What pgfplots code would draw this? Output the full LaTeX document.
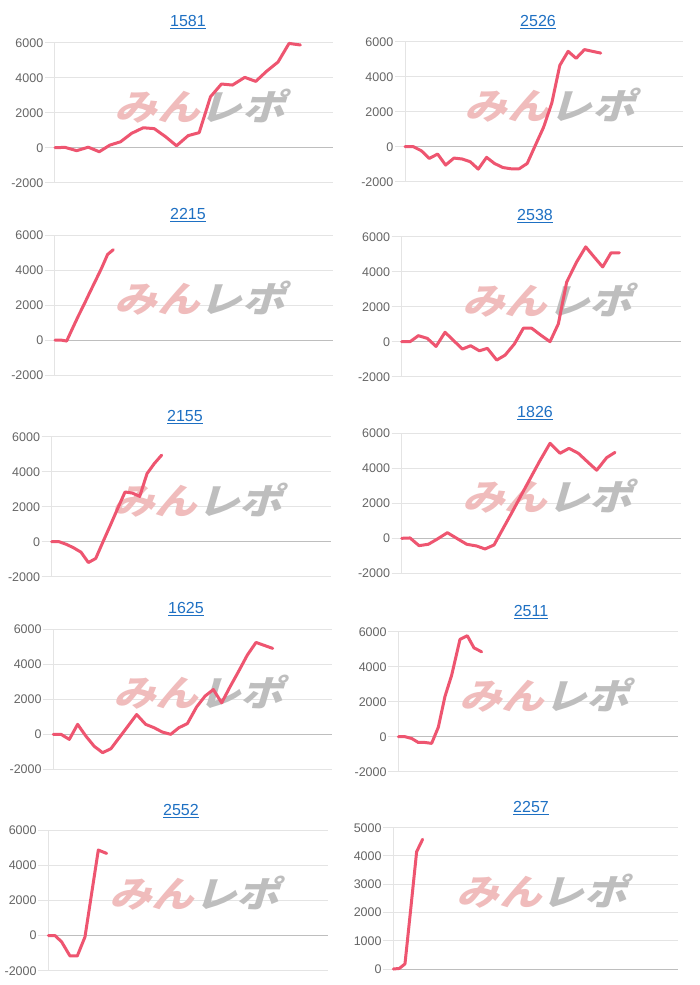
\documentclass[border=0pt]{standalone}
\usepackage{fontspec}
\setmainfont{Liberation Sans}
\newfontfamily\jp{Noto Sans CJK JP}[FakeSlant=0.25]
\usepackage{pgfplots}
\pgfplotsset{compat=1.18}

\definecolor{linec}{RGB}{238,85,112}
\definecolor{gridc}{RGB}{228,228,228}
\definecolor{zeroc}{RGB}{190,190,190}
\definecolor{tickc}{RGB}{102,102,102}
\definecolor{titlec}{RGB}{30,112,195}
\definecolor{wmpink}{RGB}{240,188,188}
\definecolor{wmgray}{RGB}{190,190,190}

% one small chart; 1pt stands for one pixel of the reference
\pgfplotsset{
  panel/.style={
    scale only axis, anchor=south west,
    xmin=0, ymin=-2000, ymax=6000,
    ytick={-2000,0,2000,4000,6000},
    xtick=\empty,
    axis line style={draw=none},
    ymajorgrids, major grid style={gridc, line width=1pt},
    ytick pos=left, tick align=outside, major tick length=10pt,
    tick style={gridc, line width=1pt},
    yticklabel style={font=\fontsize{12.5}{14}\selectfont, text=tickc, inner sep=1.5pt},
    /pgf/number format/assume math mode=true,
    /pgf/number format/1000 sep={},
    clip=false,
  },
  pnl/.style={linec, line width=3pt, line join=round, line cap=round},
}
\newcommand{\wmark}{%
  \node[font=\jp\bfseries\fontsize{36}{36}\selectfont, xscale=1.18, inner sep=0pt]
    at (rel axis cs:0.5,0.5) [xshift=5pt, yshift=7pt]
    {\textcolor{wmpink}{みん}\textcolor{wmgray}{レポ}};}
\newcommand{\pframe}[1]{%
  \draw[gridc, line width=1pt] (rel axis cs:0,0) -- (rel axis cs:0,1);
  \draw[zeroc, line width=1pt] (rel axis cs:0,#1) -- (rel axis cs:1,#1);}
\tikzset{ttl/.style={font=\fontsize{16}{18}\selectfont, text=titlec, inner sep=0pt}}

\begin{document}
\begin{tikzpicture}
\fill[white] (0,0) rectangle (700pt,-985pt);

% row 1
\node[ttl] at (188pt,-21.7pt) {\underline{1581}};
\begin{axis}[panel, at={(55pt,-182.7pt)}, width=278pt, height=140pt, xmax=835]
\wmark \pframe{0.25}
\addplot[pnl] coordinates {(0,0)(30,20)(65,-170)(100,30)(133,-230)(165,150)(197,340)(230,820)(265,1140)(298,1090)(332,630)(365,110)(400,690)(433,860)(467,2910)(500,3640)(533,3580)(570,4020)(603,3790)(635,4360)(670,4900)(703,5960)(737,5870)};
\end{axis}

\node[ttl] at (538pt,-21.7pt) {\underline{2526}};
\begin{axis}[panel, at={(405pt,-181.7pt)}, width=278pt, height=140pt, xmax=835]
\wmark \pframe{0.25}
\addplot[pnl] coordinates {(0,0)(25,0)(49,-230)(73,-670)(98,-420)(122,-1050)(147,-650)(171,-700)(196,-860)(220,-1280)(245,-610)(269,-960)(294,-1190)(318,-1260)(343,-1260)(367,-960)(392,100)(416,1100)(441,2500)(465,4650)(490,5450)(514,5050)(539,5550)(563,5450)(588,5350)};
\end{axis}

% row 2
\node[ttl] at (188pt,-215pt) {\underline{2215}};
\begin{axis}[panel, at={(55pt,-375pt)}, width=278pt, height=140pt, xmax=835]
\wmark \pframe{0.25}
\addplot[pnl] coordinates {(0,0)(17,0)(35,-60)(53,680)(70,1370)(88,2060)(105,2740)(123,3440)(140,4110)(158,4890)(175,5160)};
\end{axis}

\node[ttl] at (535pt,-215.7pt) {\underline{2538}};
\begin{axis}[panel, at={(401.7pt,-376.7pt)}, width=279.3pt, height=140pt, xmax=838]
\wmark \pframe{0.25}
\addplot[pnl] coordinates {(0,0)(25,0)(50,345)(77,190)(103,-270)(130,540)(182,-420)(207,-230)(233,-520)(257,-380)(285,-1050)(310,-770)(338,-130)(365,770)(390,770)(417,380)(445,0)(470,1020)(495,3410)(525,4560)(552,5420)(577,4850)(603,4270)(628,5080)(653,5080)};
\end{axis}

% row 3
\node[ttl] at (185pt,-416.7pt) {\underline{2155}};
\begin{axis}[panel, at={(51.7pt,-576.7pt)}, width=279.3pt, height=140pt, xmax=838]
\wmark \pframe{0.25}
\addplot[pnl] coordinates {(0,0)(22,0)(44,-150)(66,-350)(88,-600)(110,-1190)(132,-960)(154,0)(176,940)(198,1900)(220,2840)(242,2780)(264,2590)(286,3890)(308,4470)(330,4950)};
\end{axis}

\node[ttl] at (535pt,-413.3pt) {\underline{1826}};
\begin{axis}[panel, at={(401.7pt,-573.3pt)}, width=279.3pt, height=140pt, xmax=838]
\wmark \pframe{0.25}
\addplot[pnl] coordinates {(0,0)(25,20)(52,-420)(80,-340)(107,-40)(137,320)(195,-340)(225,-440)(250,-610)(277,-380)(305,590)(332,1520)(359,2480)(386,3430)(413,4380)(445,5430)(475,4860)(502,5140)(530,4860)(557,4380)(585,3890)(615,4610)(640,4910)};
\end{axis}

% row 4
\node[ttl] at (186pt,-609.3pt) {\underline{1625}};
\begin{axis}[panel, at={(53.3pt,-769.3pt)}, width=278.4pt, height=140pt, xmax=835]
\wmark \pframe{0.25}
\addplot[pnl] coordinates {(0,0)(23,0)(48,-290)(73,570)(98,-110)(123,-690)(148,-1050)(173,-820)(250,1130)(277,570)(302,380)(327,130)(352,0)(377,380)(402,610)(430,1570)(455,2180)(480,2560)(505,1800)(530,2710)(555,3570)(582,4530)(608,5250)(658,4910)};
\end{axis}

\node[ttl] at (531pt,-611.7pt) {\underline{2511}};
\begin{axis}[panel, at={(398.3pt,-771.7pt)}, width=280pt, height=140pt, xmax=840]
\wmark \pframe{0.25}
\addplot[pnl] coordinates {(0,0)(20,0)(40,-100)(60,-330)(80,-330)(100,-380)(120,540)(140,2300)(160,3510)(185,5560)(207,5770)(227,5080)(250,4850)};
\end{axis}

% row 5
\node[ttl] at (181pt,-810.7pt) {\underline{2552}};
\begin{axis}[panel, at={(48.3pt,-970.7pt)}, width=280pt, height=140.7pt, xmax=840]
\wmark \pframe{0.25}
\addplot[pnl] coordinates {(0,0)(20,0)(40,-360)(65,-1160)(87,-1160)(110,-80)(130,2390)(150,4860)(175,4670)};
\end{axis}

\node[ttl] at (531pt,-808.3pt) {\underline{2257}};
\begin{axis}[panel, at={(393.3pt,-969pt)}, width=285pt, height=141.3pt, xmax=855,
  ymin=0, ymax=5000, ytick={0,1000,2000,3000,4000,5000}]
\wmark \pframe{0}
\addplot[pnl] coordinates {(0,0)(18,20)(35,180)(52,2090)(70,4150)(88,4590)};
\end{axis}
\end{tikzpicture}
\end{document}
